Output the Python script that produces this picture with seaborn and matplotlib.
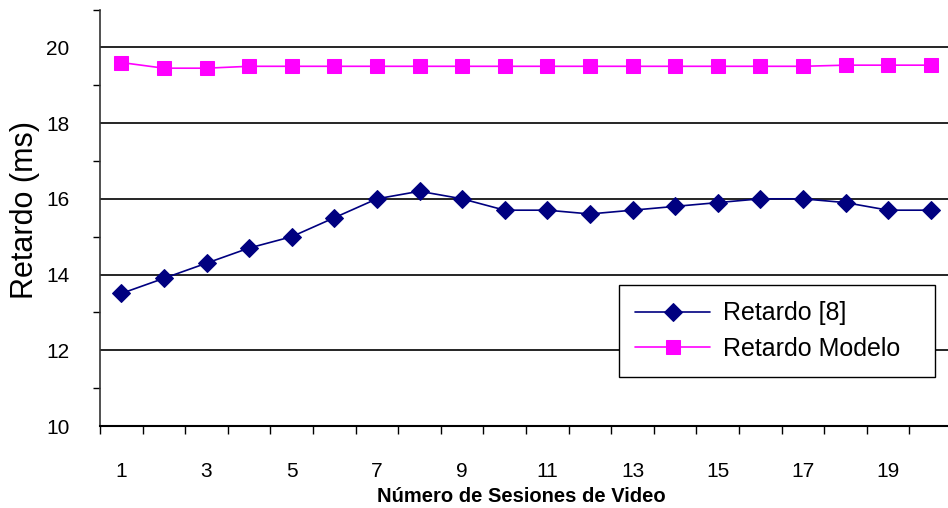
import numpy as np
import pandas as pd
import seaborn as sns
import matplotlib.pyplot as plt
from matplotlib.ticker import FixedLocator

sesiones = list(range(1, 21))
retardo_8 = [13.5, 13.9, 14.3, 14.7, 15.0, 15.5, 16.0, 16.2, 16.0, 15.7,
             15.7, 15.6, 15.7, 15.8, 15.9, 16.0, 16.0, 15.9, 15.7, 15.7]
retardo_modelo = [19.6, 19.45, 19.45, 19.5, 19.5, 19.5, 19.5, 19.5, 19.5, 19.5,
                  19.5, 19.5, 19.5, 19.5, 19.5, 19.5, 19.5, 19.53, 19.53, 19.53]
xtick_labels = [str(i) for i in range(1, 20, 2)]

sns.set_style("white")
plt.rcParams['font.family'] = ['Liberation Sans', 'DejaVu Sans']
plt.rcParams['text.color'] = 'black'
plt.rcParams['axes.labelcolor'] = 'black'
plt.rcParams['xtick.color'] = 'black'
plt.rcParams['ytick.color'] = 'black'

fig = plt.figure(figsize=(9.48, 5.08), dpi=100)
ax = fig.add_axes([100 / 948, (508 - 426) / 508, 852 / 948, (426 - 9.5) / 508])

sns.lineplot(x=sesiones, y=retardo_8, ax=ax, color="#000080", marker="D",
             markersize=9, markeredgecolor="#000080", linewidth=1.2, label="Retardo [8]")
sns.lineplot(x=sesiones, y=retardo_modelo, ax=ax, color="#FF00FF", marker="s",
             markersize=9.5, markeredgecolor="#FF00FF", linewidth=1.2, label="Retardo Modelo")

ax.set_xlim(0.5, 20.5)
ax.set_ylim(10, 21)
ax.set_yticks([10, 12, 14, 16, 18, 20])
ax.yaxis.set_minor_locator(FixedLocator([11, 13, 15, 17, 19, 21]))
ax.set_xticks(range(1, 20, 2))
ax.set_xticklabels(xtick_labels)
ax.xaxis.set_minor_locator(FixedLocator(np.arange(0.5, 21, 1)))
ax.tick_params(axis="x", which="major", length=0, pad=26, labelsize=15)
ax.tick_params(axis="x", which="minor", length=6, width=1, direction="out", color="black", bottom=True)
ax.tick_params(axis="y", which="major", length=0, pad=22, labelsize=15)
ax.tick_params(axis="y", which="minor", length=5, width=1, direction="out", color="black", left=True)
ax.grid(axis="y", which="major", color="black", linewidth=1.2)
ax.set_axisbelow(True)

for s in ["top", "right"]:
    ax.spines[s].set_visible(False)
ax.spines["left"].set_color("#333333")
ax.spines["left"].set_linewidth(1.2)
ax.spines["bottom"].set_color("black")
ax.spines["bottom"].set_linewidth(1.5)

ax.set_ylabel("Retardo (ms)", fontsize=22)
ax.yaxis.set_label_coords((40 - 100) / 852, (426 - 210) / 416.5)
ax.set_xlabel("Número de Sesiones de Video", fontsize=14.5, fontweight="bold")
ax.xaxis.set_label_coords((521 - 100) / 852, -(496 - 426) / 416.5)
ax.xaxis.label.set_va("center")

leg = ax.legend(loc="upper left",
                bbox_to_anchor=(519 / 852, (426 - 375) / 416.5, 316 / 852, 90 / 416.5),
                mode="expand", borderaxespad=0, frameon=True, fancybox=False, edgecolor="black",
                handlelength=3.0, borderpad=0.65, labelspacing=0.45, handletextpad=0.5,
                prop={'size': 18})
leg.get_frame().set_linewidth(1.0)
leg.get_frame().set_facecolor("white")
leg.get_frame().set_alpha(1)

fig.savefig("out.png", dpi=100)
